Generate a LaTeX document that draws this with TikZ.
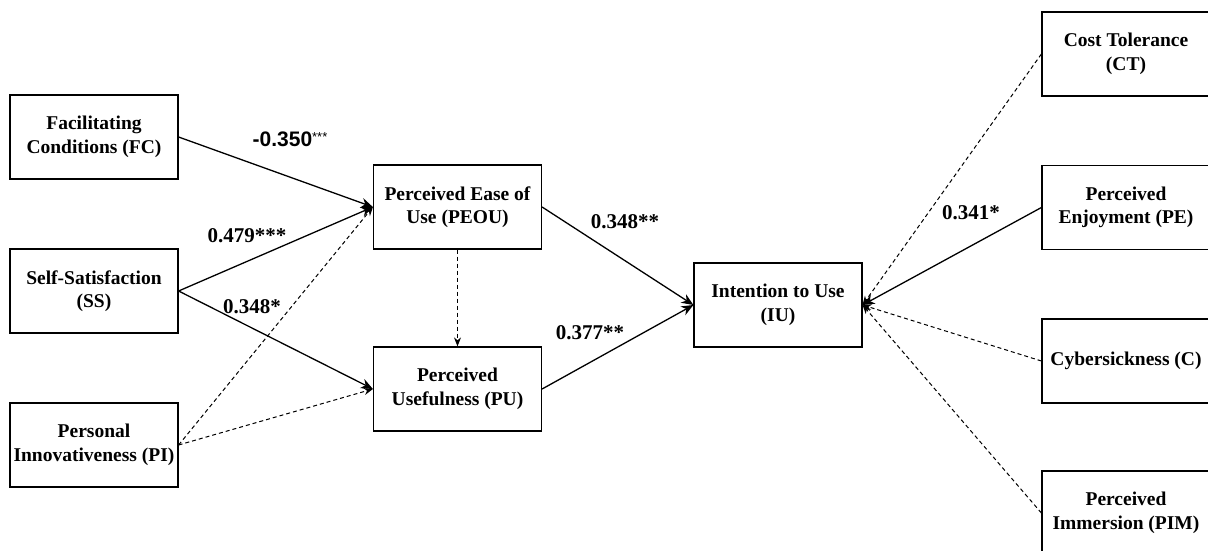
\documentclass[tikz,border=0pt]{standalone}
\usepackage{fontspec}
\setmainfont{Liberation Serif}
\newfontfamily\arialf{Liberation Sans}
\usetikzlibrary{arrows.meta}
\begin{document}
\begin{tikzpicture}[x=1pt,y=-1pt,
  boxnode/.style={draw,line width=1.2pt,minimum width=168pt,minimum height=84pt,align=center,inner sep=2pt,font=\fontsize{19.5}{23.5}\selectfont\bfseries},
  lbl/.style={font=\fontsize{21}{24}\selectfont\bfseries,inner sep=0pt},
  conn/.style={line width=1.3pt,-{Stealth[length=12pt,width=10pt]}},
  dconn/.style={line width=1pt,dash pattern=on 4pt off 3pt,-{Stealth[length=9pt,width=7pt]}}]
\useasboundingbox (0,0) rectangle (1208,551);
\node[boxnode] (FC) at (94,137) {Facilitating\\Conditions (FC)};
\node[boxnode] (SS) at (94,291) {Self-Satisfaction\\(SS)};
\node[boxnode] (PI) at (94,445) {Personal\\Innovativeness (PI)};
\node[boxnode] (PEOU) at (457.5,207) {Perceived Ease of\\Use (PEOU)};
\node[boxnode] (PU) at (457.5,389) {Perceived\\Usefulness (PU)};
\node[boxnode] (IU) at (778,305) {Intention to Use\\(IU)};
\node[boxnode] (CT) at (1126,54) {Cost Tolerance\\(CT)};
\node[boxnode] (PE) at (1126,207.5) {Perceived\\Enjoyment (PE)};
\node[boxnode] (C) at (1126,361) {Cybersickness (C)};
\node[boxnode] (PIM) at (1126,513) {Perceived\\Immersion (PIM)};
\draw[conn] (FC.east) -- (PEOU.west);
\draw[conn] (SS.east) -- (PEOU.west);
\draw[conn] (SS.east) -- (PU.west);
\draw[dconn] (PI.east) -- (PEOU.west);
\draw[dconn] (PI.east) -- (PU.west);
\draw[dconn] (PEOU.south) -- (PU.north);
\draw[conn] (PEOU.east) -- (IU.west);
\draw[conn] (PU.east) -- (IU.west);
\draw[dconn] (CT.west) -- (IU.east);
\draw[conn] (PE.west) -- (IU.east);
\draw[dconn] (C.west) -- (IU.east);
\draw[dconn] (PIM.west) -- (IU.east);
\node[lbl] (l1) at (290,139) {\arialf -0.350\raisebox{5pt}{\fontsize{13}{14}\selectfont\mdseries ***}};
\node[lbl] (l2) at (247,236) {0.479***};
\node[lbl] (l3) at (252,307) {0.348*};
\node[lbl] (l4) at (625,222) {0.348**};
\node[lbl] (l5) at (590,333) {0.377**};
\node[lbl] (l6) at (971,213) {0.341*};
\end{tikzpicture}
\end{document}
